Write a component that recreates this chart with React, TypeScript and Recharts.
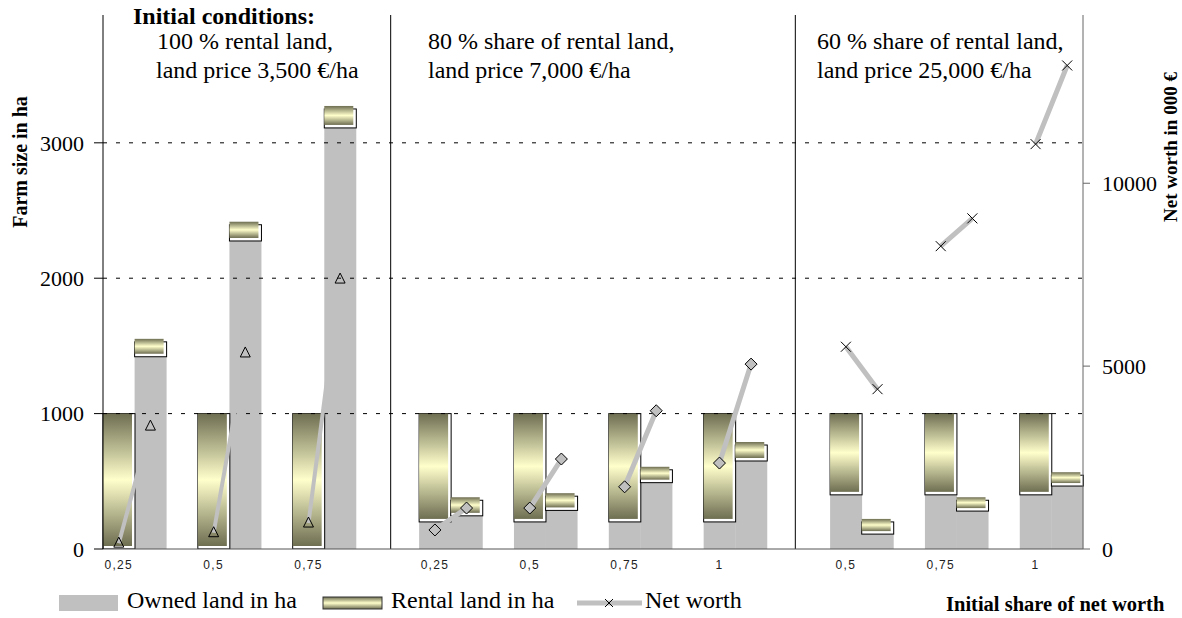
import React from "react";
import {
  ComposedChart, Bar, Line, XAxis, YAxis, ReferenceLine,
} from "recharts";

// Farm size (stacked owned + rental, ha) and net worth (000 €) per initial share of net worth.
// Each group: start bar, end bar. Three panels = three initial conditions.

const groupLabels = ["0,25", "0,5", "0,75", "0,25", "0,5", "0,75", "1", "0,5", "0,75", "1"];
const groupPanel = [0, 0, 0, 1, 1, 1, 1, 2, 2, 2];
const ownedStart = [0, 0, 0, 200, 200, 200, 200, 400, 400, 400];
const rentalStart = [1000, 1000, 1000, 800, 800, 800, 800, 600, 600, 600];
const ownedEnd = [1420, 2275, 3110, 245, 285, 490, 650, 110, 280, 465];
const rentalEnd = [110, 120, 140, 115, 105, 95, 118, 90, 80, 80];
const netStart = [160, 445, 710, 520, 1120, 1700, 2350, 5530, 8280, 11070];
const netEnd = [3360, 5360, 7380, 1120, 2460, 3780, 5055, 4370, 9040, 13220];

const leftTicks = [0, 1000, 2000, 3000];
const rightTicks = [0, 5000, 10000];
const panelTitles = [
  ["100 % rental land,", "land price 3,500 €/ha"],
  ["80 % share of rental land,", "land price 7,000 €/ha"],
  ["60 % share of rental land,", "land price 25,000 €/ha"],
];

// slot table: start, end, gap per group; one extra gap between panels
type Row = Record<string, number | string | null>;
const rows: Row[] = [];
const gap = () => rows.push({ slot: rows.length, label: "", owned: null, rental: null });
groupLabels.forEach((lab, i) => {
  if (i > 0 && groupPanel[i] !== groupPanel[i - 1]) gap();
  const k = "nw" + groupPanel[i];
  rows.push({ slot: rows.length, label: lab, owned: ownedStart[i], rental: rentalStart[i], [k]: netStart[i] });
  rows.push({ slot: rows.length, label: "", owned: ownedEnd[i], rental: rentalEnd[i], [k]: netEnd[i] });
  if (i < groupLabels.length - 1) gap();
});
const slotTicks = Array.from({ length: rows.length + 1 }, (_, i) => i);

const SERIF = "'Liberation Serif', 'Times New Roman', serif";
const SANS = "'Liberation Sans', Arial, sans-serif";
const GRAY = "#c0c0c0";

function RentalShape(p: any) {
  const { x, y, width, height } = p;
  if (!height || height <= 0) return <g />;
  const tall = height > 40;
  return (
    <g>
      <rect x={x} y={y} width={width} height={height} fill="#fff" stroke="#000" strokeWidth={1} />
      <rect x={x} y={tall ? y : y - 3} width={width - 3} height={tall ? height - 3 : height} fill="url(#rentGrad)" />
    </g>
  );
}

function marker(kind: number) {
  return (p: any) => {
    const { cx, cy, index, value } = p;
    const key = `m${kind}-${index}`;
    if (value == null || cx == null || cy == null) return <g key={key} />;
    if (kind === 0)
      return <path key={key} d={`M${cx},${cy - 6} L${cx + 5},${cy + 4} L${cx - 5},${cy + 4} Z`} fill="none" stroke="#000" strokeWidth={1} />;
    if (kind === 1)
      return <path key={key} d={`M${cx},${cy - 6} L${cx + 6},${cy} L${cx},${cy + 6} L${cx - 6},${cy} Z`} fill={GRAY} stroke="#000" strokeWidth={1} />;
    return (
      <path key={key} d={`M${cx - 5},${cy - 5} L${cx + 5},${cy + 5} M${cx + 5},${cy - 5} L${cx - 5},${cy + 5}`} stroke="#000" strokeWidth={1} />
    );
  };
}

const txt: React.CSSProperties = { position: "absolute", fontFamily: SERIF, fontSize: 24, color: "#000", whiteSpace: "nowrap", lineHeight: 1 };
const panelX = [157, 428, 817];

export default function App() {
  return (
    <div style={{ position: "absolute", left: 0, top: 0, width: 1182, height: 618, background: "#fff", overflow: "hidden" }}>
      <ComposedChart width={1182} height={618} data={rows} margin={{ top: 15, right: 39, bottom: 39, left: 43 }}
        barCategoryGap={0} barGap={0}>
        <defs>
          <linearGradient id="rentGrad" x1="0" y1="0" x2="0" y2="1">
            <stop offset="0%" stopColor="#6e6e52" />
            <stop offset="50%" stopColor="#ffffcc" />
            <stop offset="100%" stopColor="#6e6e52" />
          </linearGradient>
        </defs>
        <XAxis xAxisId="n" type="number" dataKey="slot" domain={[0, rows.length]} ticks={slotTicks} height={0}
          tick={false} axisLine={false} tickLine={{ stroke: "#777" }} tickSize={5} allowDataOverflow />
        <XAxis xAxisId="c" dataKey="slot" type="category" height={30} interval={0}
          tickFormatter={(v: number) => String(rows[v]?.label ?? "")}
          tick={{ fontFamily: SANS, fontSize: 12, fill: "#222", letterSpacing: 1.3 }}
          axisLine={{ stroke: "#555" }} tickLine={false} tickSize={6} tickMargin={5} />
        <YAxis yAxisId="l" domain={[0, 3944]} ticks={leftTicks} width={60} allowDataOverflow
          tick={{ fontFamily: SERIF, fontSize: 22, fill: "#000" }}
          axisLine={{ stroke: "#000" }} tickLine={{ stroke: "#000" }} tickSize={9} tickMargin={10} />
        <YAxis yAxisId="r" orientation="right" domain={[0, 14600]} ticks={rightTicks} width={60} allowDataOverflow
          tick={{ fontFamily: SERIF, fontSize: 22, fill: "#000", textAnchor: "start" }}
          axisLine={{ stroke: "#666" }} tickLine={{ stroke: "#666" }} tickSize={7} tickMargin={12} />
        {leftTicks.slice(1).map((t) => (
          <ReferenceLine key={t} xAxisId="n" yAxisId="l" y={t} stroke="#000" strokeDasharray="4 9" />
        ))}
        <ReferenceLine xAxisId="n" yAxisId="l" x={9.1} stroke="#000" />
        <ReferenceLine xAxisId="n" yAxisId="l" x={21.9} stroke="#000" />
        <Bar xAxisId="c" yAxisId="l" dataKey="owned" stackId="a" fill={GRAY} isAnimationActive={false} />
        <Bar xAxisId="c" yAxisId="l" dataKey="rental" stackId="a" shape={RentalShape} isAnimationActive={false} />
        {[0, 1, 2].map((k) => (
          <Line key={k} xAxisId="c" yAxisId="r" dataKey={"nw" + k} stroke={GRAY} strokeWidth={k === 0 ? 4 : 5}
            dot={marker(k)} activeDot={false} isAnimationActive={false} connectNulls={false} />
        ))}
      </ComposedChart>

      {/* panel titles */}
      <div style={{ ...txt, left: 133, top: 4, fontWeight: "bold" }}>Initial conditions:</div>
      {panelTitles.map((t, i) => (
        <React.Fragment key={i}>
          <div style={{ ...txt, left: panelX[i], top: 29 }}>{t[0]}</div>
          <div style={{ ...txt, left: panelX[i] - (i === 0 ? 1 : 0), top: 58 }}>{t[1]}</div>
        </React.Fragment>
      ))}

      {/* axis titles */}
      <div style={{ ...txt, fontSize: 20, lineHeight: "16px", fontWeight: "bold", left: 20, top: 162, transform: "translate(-50%,-50%) rotate(-90deg)" }}>Farm size in ha</div>
      <div style={{ ...txt, fontSize: 19, lineHeight: "16px", fontWeight: "bold", left: 1171, top: 147, transform: "translate(-50%,-50%) rotate(-90deg)" }}>Net worth in 000 €</div>
      <div style={{ ...txt, fontSize: 20.5, fontWeight: "bold", left: 946, top: 594 }}>Initial share of net worth</div>

      {/* legend */}
      <svg style={{ position: "absolute", left: 0, top: 585 }} width={700} height={30}>
        <defs>
          <linearGradient id="legGrad" x1="0" y1="0" x2="0" y2="1">
            <stop offset="0%" stopColor="#6e6e52" />
            <stop offset="50%" stopColor="#ffffcc" />
            <stop offset="100%" stopColor="#6e6e52" />
          </linearGradient>
        </defs>
        <rect x={59} y={10} width={59} height={16} fill={GRAY} />
        <rect x={323} y={12} width={59} height={12} fill="url(#legGrad)" stroke="#333" />
        <line x1={577} x2={642} y1={18} y2={18} stroke={GRAY} strokeWidth={5} />
        <path d="M605,14 L613,22 M613,14 L605,22" stroke="#000" strokeWidth={1} />
      </svg>
      <div style={{ ...txt, left: 127, top: 588 }}>Owned land in ha</div>
      <div style={{ ...txt, left: 391, top: 588 }}>Rental land in ha</div>
      <div style={{ ...txt, left: 645, top: 588 }}>Net worth</div>
    </div>
  );
}
